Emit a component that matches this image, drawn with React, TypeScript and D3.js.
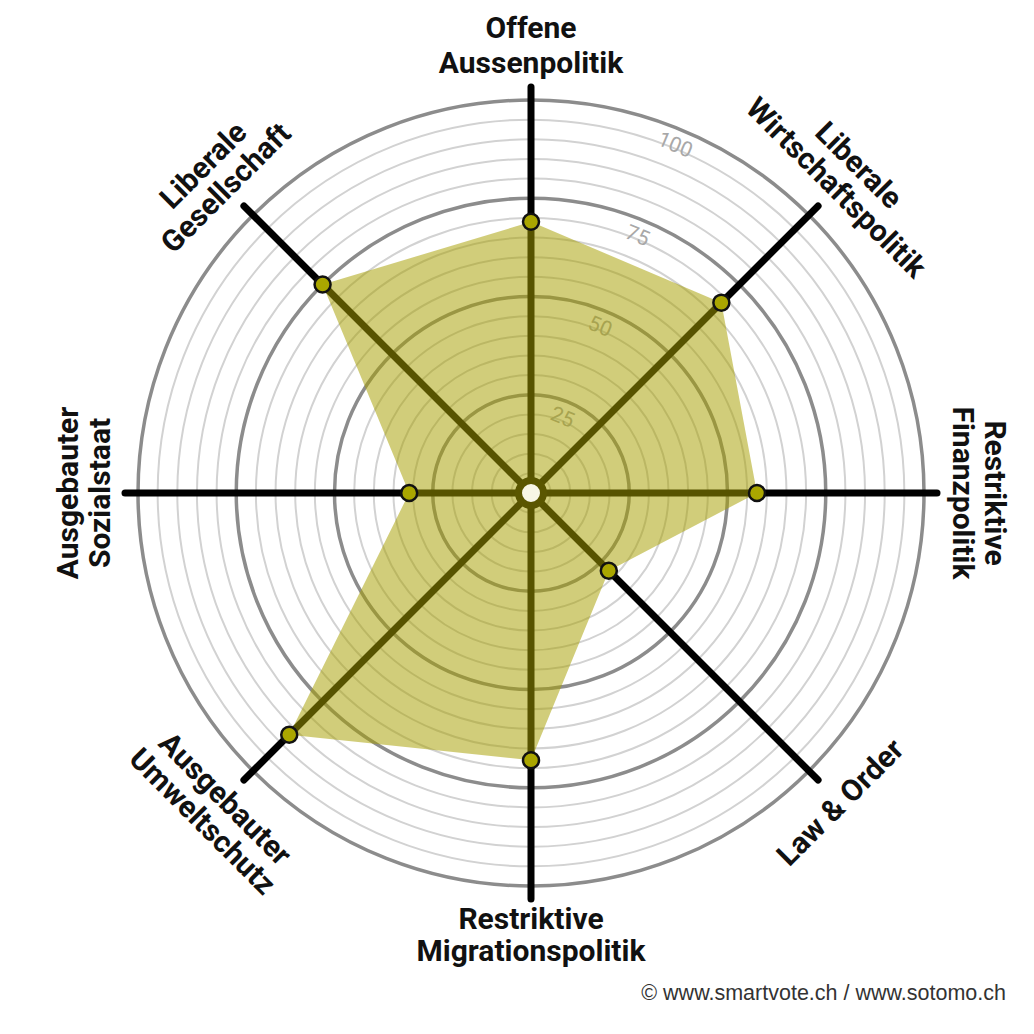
import React from "react";
import * as d3 from "d3";

const categories = [
  ["Offene", "Aussenpolitik"],
  ["Liberale", "Wirtschaftspolitik"],
  ["Restriktive", "Finanzpolitik"],
  ["Law & Order"],
  ["Restriktive", "Migrationspolitik"],
  ["Ausgebauter", "Umweltschutz"],
  ["Ausgebauter", "Sozialstaat"],
  ["Liberale", "Gesellschaft"],
];
const values = [69, 68.5, 57.5, 28, 68, 87, 31, 75];
const tickValues = [25, 50, 75, 100];
const ringValues = d3.range(5, 101, 5);
const footer = "© www.smartvote.ch / www.sotomo.ch";

export default function App() {
  const W = 1034, H = 1034;
  const cx = 531, cy = 493;
  const r = d3.scaleLinear().domain([0, 100]).range([0, 393]);
  const n = categories.length;
  const ang = d3.scaleLinear().domain([0, n]).range([0, 2 * Math.PI]);
  const pt = (a: number, rad: number): [number, number] => [
    cx + Math.sin(a) * rad,
    cy - Math.cos(a) * rad,
  ];
  const poly = values.map((v, i) => pt(ang(i), r(v)));
  const line = d3.line().curve(d3.curveLinearClosed);
  const tickA = Math.PI / 8;
  const fontFam = "Roboto, 'Noto Sans', sans-serif";

  return (
    <svg width={W} height={H} style={{ position: "absolute", left: 0, top: 0, background: "#fff" }}>
      <g>
        {ringValues.map((v) => (
          <circle
            key={v}
            cx={cx}
            cy={cy}
            r={r(v)}
            fill="none"
            stroke={v % 25 === 0 ? "#8c8c8c" : "#d2d2d2"}
            strokeWidth={v % 25 === 0 ? 3.5 : 2}
          />
        ))}
      </g>
      <g>
        {tickValues.map((v) => {
          const [x, y] = pt(tickA, r(v) - 16);
          return (
            <text
              key={v}
              x={x}
              y={y}
              transform={`rotate(${(tickA * 180) / Math.PI},${x},${y})`}
              textAnchor="middle"
              dominantBaseline="central"
              fontFamily={fontFam}
              fontSize={21}
              fill="#a8a8a8"
            >
              {v}
            </text>
          );
        })}
      </g>
      <g>
        {categories.map((c, i) => {
          const [x, y] = pt(ang(i), 406);
          return (
            <line
              key={i}
              x1={cx}
              y1={cy}
              x2={x}
              y2={y}
              stroke="#000"
              strokeWidth={7}
              strokeLinecap="round"
            />
          );
        })}
      </g>
      <path d={line(poly) || ""} fill="rgb(167,160,0)" fillOpacity={0.52} stroke="none" />
      <circle cx={cx} cy={cy} r={12.5} fill="#f7f6e6" stroke="#5a5600" strokeWidth={7} />
      <g>
        {poly.map(([x, y], i) => (
          <circle key={i} cx={x} cy={y} r={8} fill="#aaa600" stroke="#111" strokeWidth={2.5} />
        ))}
      </g>
      <g>
        {categories.map((c, i) => {
          const a = ang(i);
          const deg = (a * 180) / Math.PI;
          let rot = deg;
          if (deg > 90 && deg <= 225) rot = deg - 180;
          else if (deg > 225) rot = deg - 360;
          const Rc = c.length > 1 ? (deg === 180 ? 441 : 448) : 437;
          const [x, y] = pt(a, Rc);
          const lh = deg === 0 ? 35 : 32;
          return (
            <g key={i} transform={`translate(${x},${y}) rotate(${rot})`}>
              {c.map((s, j) => (
                <text
                  key={j}
                  x={0}
                  y={(j - (c.length - 1) / 2) * lh}
                  textAnchor="middle"
                  dominantBaseline="central"
                  fontFamily={fontFam}
                  fontWeight="bold"
                  fontSize={30}
                  fill="#111"
                >
                  {s}
                </text>
              ))}
            </g>
          );
        })}
      </g>
      <text
        x={1006}
        y={1000}
        textAnchor="end"
        fontFamily="'Liberation Sans', Arial, sans-serif"
        fontSize={21.5}
        fill="#333"
      >
        {footer}
      </text>
    </svg>
  );
}
